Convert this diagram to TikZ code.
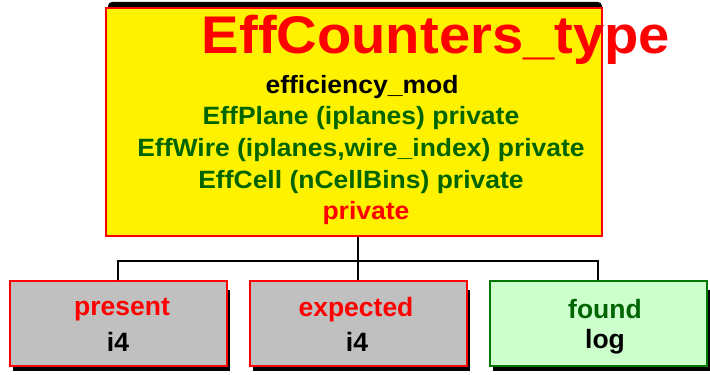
\documentclass[tikz,border=0pt]{standalone}
\usepackage{fontspec}
\setmainfont{Liberation Sans}
\definecolor{dgreen}{RGB}{0,100,0}
\definecolor{bgreen}{RGB}{0,120,0}
\definecolor{lgreen}{RGB}{204,255,204}
\definecolor{grayfill}{RGB}{192,192,192}
\newcommand{\wide}[1]{\scalebox{1.06}[1]{#1}}
\begin{document}
\begin{tikzpicture}[x=1pt,y=1pt,
  bigbox/.style={draw=red, line width=1.5pt, fill=yellow, minimum width=496pt, minimum height=228pt, inner sep=0pt},
  smallbox/.style={line width=1.5pt, minimum width=217pt, minimum height=85pt, inner sep=0pt},
  conn/.style={draw=black, line width=1.2pt},
  txt/.style={font=\bfseries\fontsize{25}{27}\selectfont, inner sep=0pt},
  stxt/.style={font=\bfseries\fontsize{26.5}{28}\selectfont, inner sep=0pt}]
\useasboundingbox (0,0) rectangle (710,375);
% shadows
\fill[black, rounded corners=4pt] (108,375-2) rectangle (602,375-20);
\fill[black] (13,375-371) rectangle (230,375-290);
\fill[black] (253,375-371) rectangle (470,375-290);
\fill[black] (493,375-371) rectangle (710,375-290);
% top box
\node[bigbox] (top) at (354,375-122) {};
\node[font=\bfseries\fontsize{53}{57}\selectfont, text=red, inner sep=0pt] (title) at (436,375-40) {\scalebox{1.06}[1]{EffCounters\_type}};
\node[txt, text=black] (l1) at (362,375-87) {\wide{efficiency\_mod}};
\node[txt, text=dgreen] (l2) at (361,375-118) {\wide{EffPlane (iplanes) private}};
\node[txt, text=dgreen] (l3) at (361,375-150) {\wide{EffWire (iplanes,wire\_index) private}};
\node[txt, text=dgreen] (l4) at (361,375-182) {\wide{EffCell (nCellBins) private}};
\node[txt, text=red] (l5) at (366,375-213) {\wide{private}};
% bottom boxes
\node[smallbox, draw=red, fill=grayfill] (b1) at (118.5,375-323.5) {};
\node[smallbox, draw=red, fill=grayfill] (b2) at (358.5,375-323.5) {};
\node[smallbox, draw=bgreen, fill=lgreen] (b3) at (598.5,375-323.5) {};
\node[stxt, text=red] (t1a) at (122,375-310) {present};
\node[stxt, text=black] (t1b) at (118,375-342) {i4};
\node[stxt, text=red] (t2a) at (356,375-310) {expected};
\node[stxt, text=black] (t2b) at (357,375-342) {i4};
\node[stxt, text=dgreen] (t3a) at (605,375-309) {found};
\node[stxt, text=black] (t3b) at (605,375-342) {log};
% connectors
\coordinate (mid) at (358,375-261);
\draw[conn] (top.south -| mid) -- (mid);
\draw[conn] (b1.north -| 118,0) |- (mid) -| (b3.north -| 598,0);
\draw[conn] (mid) -- (b2.north -| mid);
\end{tikzpicture}
\end{document}
